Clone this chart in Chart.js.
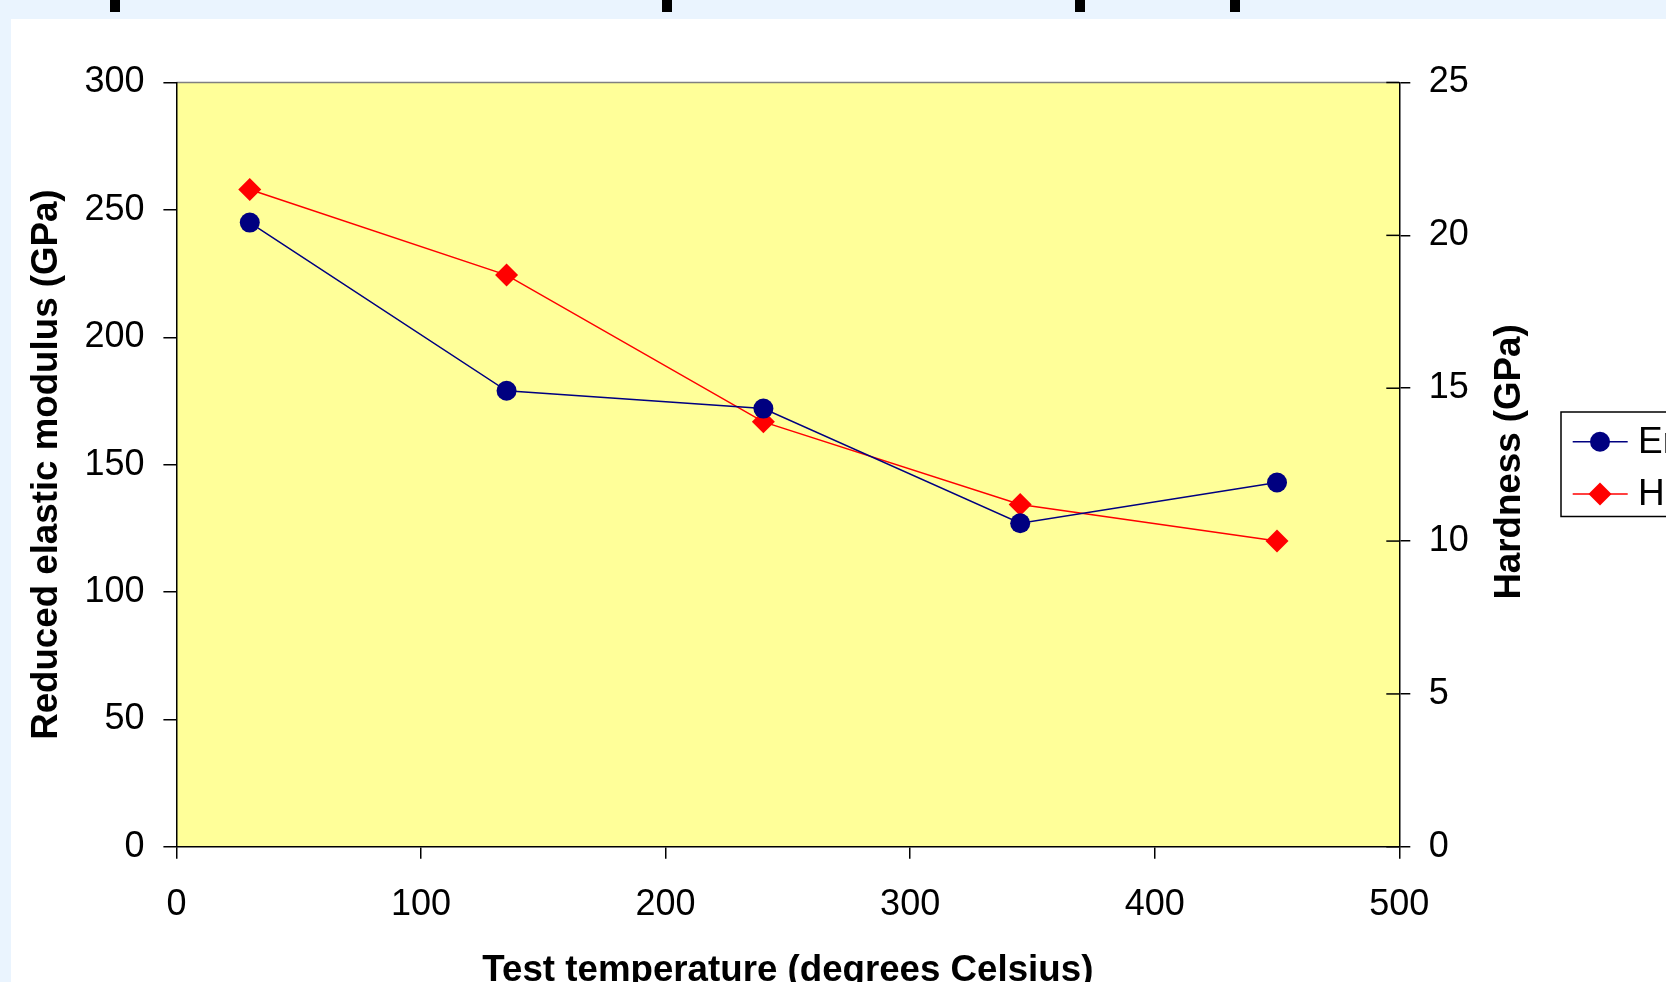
<!DOCTYPE html>
<html>
<head>
<meta charset="utf-8">
<script src="https://cdn.jsdelivr.net/npm/chart.js@4.4.1/dist/chart.umd.min.js"></script>
<style>
  html, body { margin: 0; padding: 0; width: 1666px; height: 982px; overflow: hidden; background: #EAF4FE; }
  #panel { position: absolute; left: 11px; top: 19px; width: 1800px; height: 963px; background: #ffffff; }
  .mark { position: absolute; top: 0; width: 10px; height: 12px; background: #000; }
  canvas { display: block; }
</style>
</head>
<body>
<div class="mark" style="left:110px"></div>
<div class="mark" style="left:662px"></div>
<div class="mark" style="left:1075px"></div>
<div class="mark" style="left:1230px"></div>
<div id="panel"><canvas id="c" width="1800" height="963"></canvas></div>
<script>
// ---- data ----
const temperatures = [30, 135, 240, 345, 450];
const modulus = [245, 179, 172, 127, 143];
const hardness = [21.5, 18.7, 13.9, 11.2, 10.0];
const seriesNames = ['Er', 'H'];
const xTitle = 'Test temperature (degrees Celsius)';
const yTitle = 'Reduced elastic modulus (GPa)';
const y2Title = 'Hardness (GPa)';

const FONT = '"Liberation Sans", Arial, Helvetica, sans-serif';
const NAVY = '#000080';
const RED = '#FF0000';

const bgPlugin = {
  id: 'bgPlugin',
  beforeDraw(chart) {
    const { ctx, chartArea: a } = chart;
    ctx.save();
    ctx.fillStyle = '#FFFF99';
    ctx.fillRect(a.left, a.top, a.right - a.left, a.bottom - a.top);
    ctx.strokeStyle = '#808080';
    ctx.lineWidth = 1.5;
    ctx.beginPath();
    ctx.moveTo(a.left, a.top);
    ctx.lineTo(a.right, a.top);
    ctx.stroke();
    ctx.restore();
  },
  afterDraw(chart) {
    const { ctx, chartArea: a } = chart;
    const s = chart.scales.y2;
    ctx.save();
    // inner halves of right-axis cross ticks
    ctx.strokeStyle = '#000';
    ctx.lineWidth = 1.5;
    s.ticks.forEach(t => {
      const py = s.getPixelForValue(t.value);
      ctx.beginPath();
      ctx.moveTo(a.right - 13, py);
      ctx.lineTo(a.right, py);
      ctx.stroke();
    });
    // right axis title (reads bottom to top)
    ctx.fillStyle = '#000';
    ctx.font = 'bold 36.7px ' + FONT;
    ctx.textAlign = 'center';
    ctx.textBaseline = 'middle';
    ctx.translate(1498.8, 443);
    ctx.rotate(-Math.PI / 2);
    ctx.fillText(y2Title, 0, 0);
    ctx.restore();

    // legend
    ctx.save();
    const bx = 1550, by = 393, bh = 104.5, bw = 300;
    ctx.strokeStyle = '#000';
    ctx.lineWidth = 1.5;
    ctx.strokeRect(bx, by, bw, bh);
    const rows = [
      { y: 422.7, color: NAVY, style: 'circle', name: chart.data.datasets[0].label },
      { y: 475, color: RED, style: 'diamond', name: chart.data.datasets[1].label }
    ];
    rows.forEach(r => {
      ctx.strokeStyle = r.color;
      ctx.lineWidth = 1.5;
      ctx.beginPath();
      ctx.moveTo(1561.7, r.y);
      ctx.lineTo(1616.7, r.y);
      ctx.stroke();
      ctx.fillStyle = r.color;
      ctx.beginPath();
      if (r.style === 'circle') {
        ctx.arc(1589, r.y, 10, 0, Math.PI * 2);
      } else {
        ctx.moveTo(1589, r.y - 11.5);
        ctx.lineTo(1600.5, r.y);
        ctx.lineTo(1589, r.y + 11.5);
        ctx.lineTo(1577.5, r.y);
        ctx.closePath();
      }
      ctx.fill();
      ctx.fillStyle = '#000';
      ctx.font = '37px ' + FONT;
      ctx.textAlign = 'left';
      ctx.textBaseline = 'middle';
      ctx.fillText(r.name, 1627, r.y + 1);
    });
    ctx.restore();
  }
};

const tickFont = { family: FONT, size: 36, lineHeight: 1 };
const titleFont = { family: FONT, size: 36.7, weight: 'bold', lineHeight: 0.5 };

new Chart(document.getElementById('c'), {
  type: 'line',
  data: {
    datasets: [
      {
        label: seriesNames[0],
        data: temperatures.map((t, i) => ({ x: t, y: modulus[i] })),
        yAxisID: 'y',
        borderColor: NAVY,
        backgroundColor: NAVY,
        borderWidth: 1.5,
        pointStyle: 'circle',
        pointRadius: 10,
        pointBorderWidth: 0,
        pointBackgroundColor: NAVY,
        tension: 0
      },
      {
        label: seriesNames[1],
        data: temperatures.map((t, i) => ({ x: t, y: hardness[i] })),
        yAxisID: 'y2',
        borderColor: RED,
        backgroundColor: RED,
        borderWidth: 1.5,
        pointStyle: 'rectRot',
        pointRadius: 11.5,
        pointBorderWidth: 0,
        pointBackgroundColor: RED,
        tension: 0
      }
    ]
  },
  options: {
    responsive: false,
    animation: false,
    devicePixelRatio: 1,
    layout: { padding: { top: 63.5, left: 0, bottom: 0, right: 1800 - 1388.3 - 200 } },
    plugins: { legend: { display: false }, tooltip: { enabled: false } },
    scales: {
      x: {
        type: 'linear',
        position: 'bottom',
        min: 0, max: 500,
        ticks: { stepSize: 100, font: tickFont, color: '#000', padding: 28, maxRotation: 0 },
        grid: { drawOnChartArea: false, drawTicks: true, tickLength: 12, color: '#000', lineWidth: 1.5 },
        border: { display: true, color: '#000', width: 1.5 },
        title: { display: true, text: xTitle, font: titleFont, color: '#000', padding: { top: 0, bottom: 1.9 } },
        afterFit(s) { s.height = 963 - 827.8; }
      },
      y: {
        type: 'linear',
        position: 'left',
        min: 0, max: 300,
        ticks: { stepSize: 50, font: tickFont, color: '#000', padding: 18.9 },
        grid: { drawOnChartArea: false, drawTicks: true, tickLength: 13, color: '#000', lineWidth: 1.5 },
        border: { display: true, color: '#000', width: 1.5 },
        title: { display: true, text: yTitle, font: titleFont, color: '#000', padding: { top: 27, bottom: 0 } },
        afterFit(s) { s.width = 165.4; }
      },
      y2: {
        type: 'linear',
        position: 'right',
        min: 0, max: 25,
        ticks: { stepSize: 5, font: tickFont, color: '#000', padding: 18.5 },
        grid: { drawOnChartArea: false, drawTicks: true, tickLength: 11, color: '#000', lineWidth: 1.5 },
        border: { display: true, color: '#000', width: 1.5 },
        afterFit(s) { s.width = 200; }
      }
    }
  },
  plugins: [bgPlugin]
});
</script>
</body>
</html>
